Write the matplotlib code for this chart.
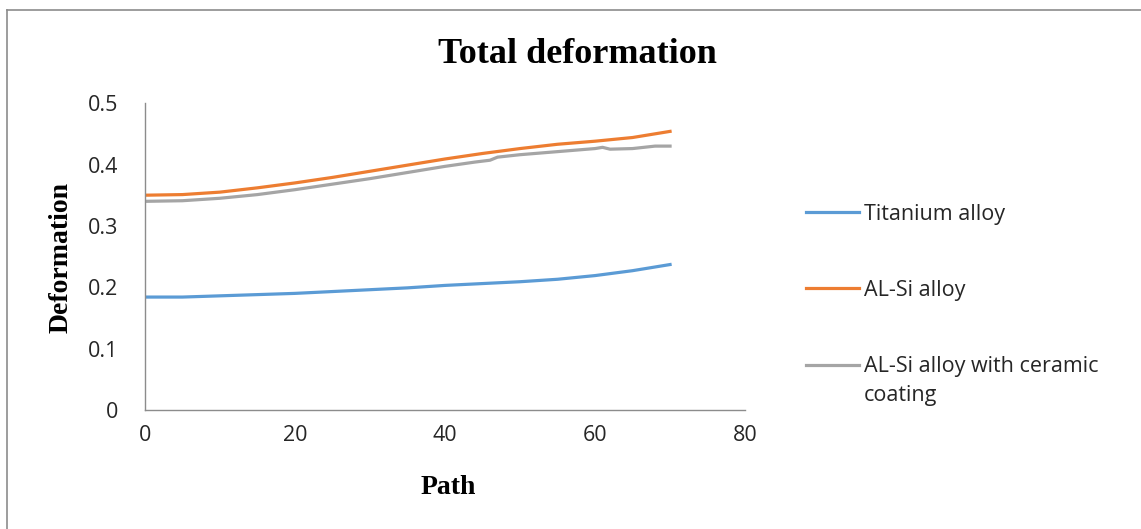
import matplotlib
matplotlib.use("Agg")
import matplotlib.pyplot as plt
from matplotlib.lines import Line2D
import numpy as np

# values
path_ti = [0, 5, 10, 15, 20, 25, 30, 35, 40, 45, 50, 55, 60, 65, 70]
titanium = [0.184, 0.184, 0.186, 0.188, 0.190, 0.193, 0.196, 0.199, 0.203, 0.206, 0.209, 0.213, 0.219, 0.227, 0.237]

path_al = [0, 5, 10, 15, 20, 25, 30, 35, 40, 45, 50, 55, 60, 65, 70]
alsi = [0.350, 0.351, 0.355, 0.362, 0.370, 0.379, 0.389, 0.399, 0.409, 0.418, 0.426, 0.433, 0.438, 0.444, 0.454]

path_cer = [0, 5, 10, 15, 20, 25, 30, 35, 40, 44, 46, 47, 50, 55, 60, 61, 62, 65, 68, 70]
ceramic = [0.340, 0.341, 0.345, 0.351, 0.359, 0.368, 0.377, 0.387, 0.397, 0.404, 0.407, 0.412, 0.416, 0.421, 0.426, 0.428, 0.425, 0.426, 0.430, 0.430]

labels = ['Titanium alloy', 'AL-Si alloy', 'AL-Si alloy with ceramic\ncoating']
colors = ['#5B9BD5', '#ED7D31', '#A5A5A5']

fig = plt.figure(figsize=(11.41, 5.29), dpi=100)
ax = fig.add_axes([0.127, 0.225, 0.526, 0.580])

ax.plot(path_ti, titanium, color=colors[0], lw=2.3, label=labels[0])
ax.plot(path_al, alsi, color=colors[1], lw=2.3, label=labels[1])
ax.plot(path_cer, ceramic, color=colors[2], lw=2.3, label=labels[2])

ax.set_xlim(0, 80)
ax.set_ylim(0, 0.5)
ax.set_xticks([0, 20, 40, 60, 80])
ax.set_yticks([0, 0.1, 0.2, 0.3, 0.4, 0.5])
ax.set_yticklabels(['0', '0.1', '0.2', '0.3', '0.4', '0.5'])
for s in ['top', 'right']:
    ax.spines[s].set_visible(False)
for s in ['left', 'bottom']:
    ax.spines[s].set_color('#8c8c8c')
    ax.spines[s].set_linewidth(1)
ax.tick_params(axis='both', length=0, labelsize=15.5, colors='#262626')
ax.tick_params(axis='y', pad=19)
ax.tick_params(axis='x', pad=11)
for t in ax.get_xticklabels() + ax.get_yticklabels():
    t.set_family('Open Sans')

ax.set_title('Total deformation', family='Liberation Serif', weight='bold',
             fontsize=26, x=0.72, y=1.16, va='center', pad=0)
ax.set_xlabel('Path', family='Liberation Serif', weight='bold', fontsize=20, va='center')
ax.xaxis.set_label_coords(0.505, -0.252)
ax.set_ylabel('Deformation', family='Liberation Serif', weight='bold', fontsize=20, va='center')
ax.yaxis.set_label_coords(-0.140, 0.498)

leg = ax.legend(loc='upper left', bbox_to_anchor=(806 / 1141, 1 - 204 / 529),
                bbox_transform=fig.transFigure, frameon=False,
                prop={'family': 'Open Sans', 'size': 15.5}, handlelength=2.45,
                handletextpad=0.25, labelspacing=2.55, borderpad=0, borderaxespad=0)
for t in leg.get_texts():
    t.set_color('#262626')
leg.get_texts()[2].set_linespacing(1.5)
# align the wrapped entry's handle with its first line, as in the reference
hl = leg.get_lines()[2]
hl.set_ydata(np.asarray(hl.get_ydata()) + 12)

# outer frame (top and left edges only visible)
fig.add_artist(Line2D([7 / 1141, 7 / 1141], [0, 1 - 10 / 529], transform=fig.transFigure,
                      color='#8c8c8c', lw=1.2))
fig.add_artist(Line2D([7 / 1141, 1], [1 - 10 / 529, 1 - 10 / 529], transform=fig.transFigure,
                      color='#8c8c8c', lw=1.2))

fig.savefig('out.png', dpi=100)
